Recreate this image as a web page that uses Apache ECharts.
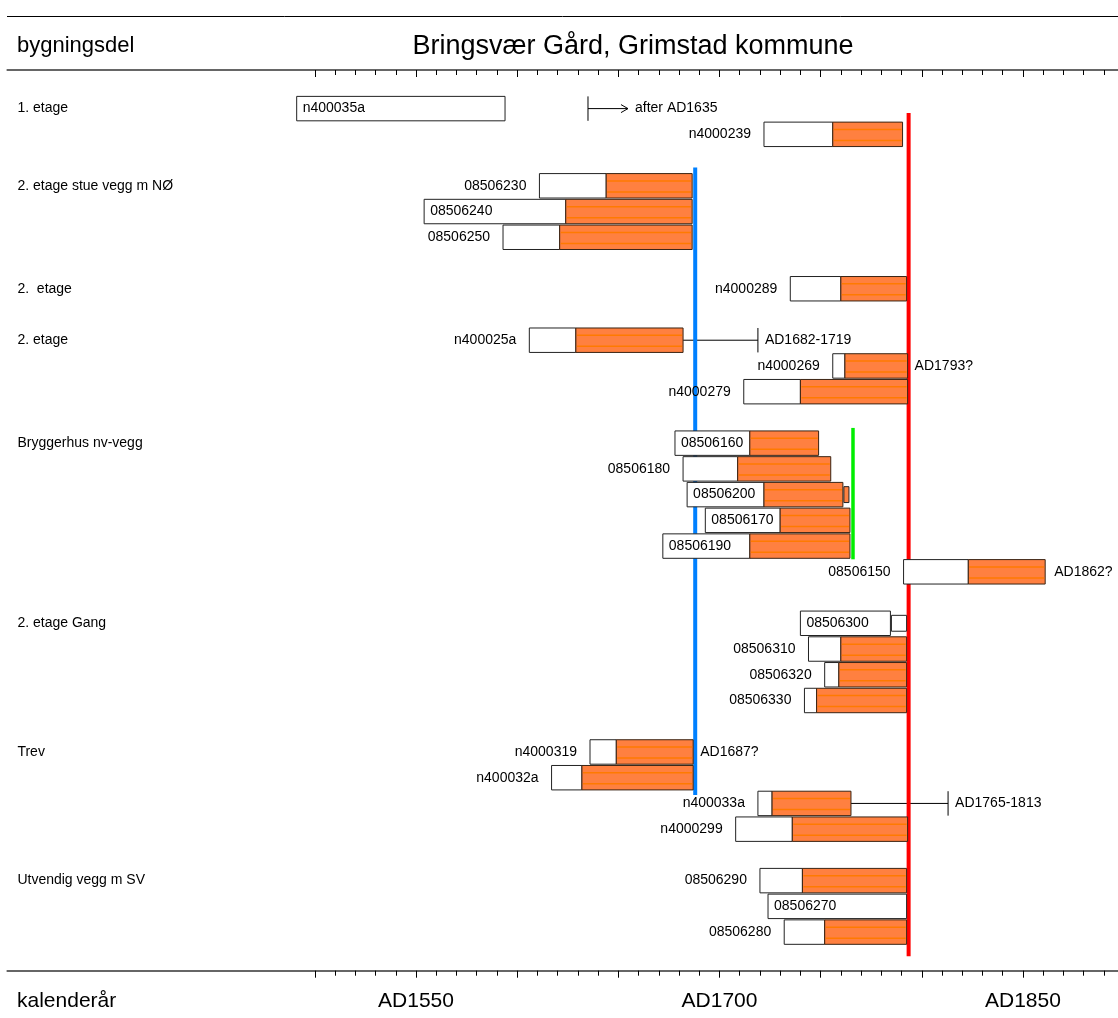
<!DOCTYPE html>
<html>
<head>
<meta charset="utf-8">
<script src="https://cdn.jsdelivr.net/npm/echarts@6/dist/echarts.min.js"></script>
<style>
html, body { margin: 0; padding: 0; background: #fff; }
#chart { width: 1118px; height: 1018px; }
</style>
</head>
<body>
<div id="chart"></div>
<script>
// bygningsdeler (building parts), in drawing order
const groups = [
    '1. etage',
    '2. etage stue vegg m NØ',
    '2.  etage',
    '2. etage',
    'Bryggerhus nv-vegg',
    '2. etage Gang',
    'Trev',
    'Utvendig vegg m SV'
];

// samples, top to bottom
const samples = [
    'n400035a', 'n4000239',
    '08506230', '08506240', '08506250',
    'n4000289',
    'n400025a', 'n4000269', 'n4000279',
    '08506160', '08506180', '08506200', '08506170', '08506190', '08506150',
    '08506300', '08506310', '08506320', '08506330',
    'n4000319', 'n400032a', 'n400033a', 'n4000299',
    '08506290', '08506270', '08506280'
];
const sampleGroup = [0, 0, 1, 1, 1, 2, 3, 3, 3, 4, 4, 4, 4, 4, 4, 5, 5, 5, 5, 6, 6, 6, 6, 7, 7, 7];

// first ring, start of sapwood (null = none), last ring, extra rings
const firstYear = [1491, 1722, 1611, 1554, 1593, 1735, 1606, 1756, 1712, 1678, 1682, 1684, 1693, 1672, 1791, 1740, 1744, 1752, 1742, 1636, 1617, 1719, 1708, 1720, 1724, 1732];
const sapStart = [null, 1756, 1644, 1624, 1621, 1760, 1629, 1762, 1740, 1715, 1709, 1722, 1730, 1715, 1823, null, 1760, 1759, 1748, 1649, 1632, 1726, 1736, 1741, null, 1752];
const lastYear = [1594, 1790.5, 1686.5, 1686.5, 1686.5, 1792.5, 1682, 1793, 1793, 1749, 1755, 1761, 1764.5, 1764.5, 1861, 1784.5, 1792.5, 1792.5, 1792.5, 1687, 1687, 1765, 1793, 1792.5, 1792.5, 1792.5];
const extraEnd = [null, null, null, null, null, null, null, null, null, null, null, 1764, null, null, null, 1792.5, null, null, null, null, null, null, null, null, null, null];

// dating notes
const noteSample = ['n400035a', 'n400025a', 'n4000269', '08506150', 'n4000319', 'n400033a'];
const noteFrom = [1635, 1682, null, null, null, 1765];
const noteTo = [null, 1719, 1793, 1862, 1687, 1813];
const noteText = ['after AD1635', 'AD1682-1719', 'AD1793?', 'AD1862?', 'AD1687?', 'AD1765-1813'];

// felling dates drawn as vertical lines
const refYears = [1688, 1793.5, 1766];
const refFrom = ['08506230', 'n4000239', '08506160'];
const refTo = ['n400032a', '08506280', '08506190'];

// axis ticks
const majorTicks = [1500, 1550, 1600, 1650, 1700, 1750, 1800, 1850];
const minorTicks = [1510, 1520, 1530, 1540, 1560, 1570, 1580, 1590, 1610, 1620, 1630, 1640,
    1660, 1670, 1680, 1690, 1710, 1720, 1730, 1740, 1760, 1770, 1780, 1790,
    1810, 1820, 1830, 1840, 1860, 1870, 1880, 1890];
const labelYears = [1550, 1700, 1850];

// --- styles ---
const FONT = '"Liberation Sans", Arial, sans-serif';
const insideLabel = ['n400035a', '08506240', '08506160', '08506200', '08506170', '08506190', '08506300', '08506270'];
const refColors = ['#0080ff', '#ff0000', '#00ee00'];
const refWidths = [4, 4, 3.5];
const refPad = [[6, 5], [9, 12], [3, 1]];
const ORANGE = '#ff8040';

// one row per sample, one blank row between building parts
const slots = [];
let slot = 0;
sampleGroup.forEach(function (g, i)
{
    if (i > 0 && g !== sampleGroup[i - 1]) slot += 1;
    slots.push(slot);
    slot += 1;
});
const groupSlots = groups.map(function (_, g) { return slots[sampleGroup.indexOf(g)]; });

var chartDom = document.getElementById('chart');
var myChart = echarts.init(chartDom, null, { renderer: 'canvas' });

function renderBar (params, api)
{
    const i = api.value(0);
    const s = slots[i];
    const h = api.size([0, 0.95])[1];
    const p0 = api.coord([firstYear[i], s]);
    const x0 = p0[0], yc = p0[1], y = yc - h / 2;
    const hasSap = sapStart[i] != null;
    const xs = api.coord([hasSap ? sapStart[i] : lastYear[i], s])[0];
    const x1 = api.coord([lastYear[i], s])[0];
    const children = [];

    children.push({
        type: 'rect',
        shape: { x: x0, y: y, width: xs - x0, height: h },
        style: { fill: '#fff', stroke: '#222', lineWidth: 1 }
    });
    if (hasSap)
    {
        children.push({
            type: 'rect',
            shape: { x: xs, y: y, width: x1 - xs, height: h },
            style: { fill: ORANGE, stroke: '#3a2414', lineWidth: 1 }
        });
        [0.3, 0.75].forEach(function (f)
        {
            children.push({
                type: 'line',
                shape: { x1: xs + 1, y1: y + h * f, x2: x1 - 1, y2: y + h * f },
                style: { stroke: '#ff7a00', lineWidth: 1.5 }
            });
        });
    }
    if (extraEnd[i] != null)
    {
        const xe = api.coord([extraEnd[i], s])[0];
        const hh = h * 0.65;
        children.push({
            type: 'rect',
            shape: { x: x1 + 1, y: yc - hh / 2, width: xe - x1 - 1, height: hh },
            style: { fill: hasSap ? ORANGE : '#fff', stroke: '#222', lineWidth: 1 }
        });
    }
    const inside = insideLabel.indexOf(samples[i]) >= 0;
    children.push({
        type: 'text',
        style: {
            text: samples[i],
            x: inside ? x0 + 6 : x0 - 13,
            y: yc,
            align: inside ? 'left' : 'right',
            verticalAlign: 'middle',
            font: '14px ' + FONT,
            fill: '#000'
        }
    });
    return { type: 'group', children: children };
}

function renderNote (params, api)
{
    const k = api.value(0);
    const s = slots[samples.indexOf(noteSample[k])];
    const h = api.size([0, 0.95])[1];
    const yc = api.coord([1500, s])[1];
    const ln = { stroke: '#000', lineWidth: 1 };
    const children = [];
    let tx;
    if (noteFrom[k] != null && noteTo[k] == null)
    {
        const x = api.coord([noteFrom[k], s])[0];
        const tip = x + 40;
        children.push({ type: 'line', shape: { x1: x, y1: yc - h / 2, x2: x, y2: yc + h / 2 }, style: ln });
        children.push({ type: 'line', shape: { x1: x, y1: yc, x2: tip, y2: yc }, style: ln });
        children.push({ type: 'polyline', shape: { points: [[tip - 7, yc - 4], [tip, yc], [tip - 7, yc + 4]] }, style: { stroke: '#000', lineWidth: 1, fill: null } });
        tx = tip + 7;
    }
    else if (noteFrom[k] != null)
    {
        const xa = api.coord([noteFrom[k], s])[0];
        const xb = api.coord([noteTo[k], s])[0];
        children.push({ type: 'line', shape: { x1: xa, y1: yc, x2: xb, y2: yc }, style: ln });
        children.push({ type: 'line', shape: { x1: xb, y1: yc - h / 2, x2: xb, y2: yc + h / 2 }, style: ln });
        tx = xb + 7;
    }
    else
    {
        tx = api.coord([noteTo[k], s])[0] + 7;
    }
    children.push({
        type: 'text',
        style: { text: noteText[k], x: tx, y: yc, align: 'left', verticalAlign: 'middle', font: '14px ' + FONT, fill: '#000' }
    });
    return { type: 'group', children: children };
}

function renderRef (params, api)
{
    const k = api.value(0);
    const h = api.size([0, 0.95])[1];
    const top = api.coord([refYears[k], slots[samples.indexOf(refFrom[k])]]);
    const bot = api.coord([refYears[k], slots[samples.indexOf(refTo[k])]]);
    return {
        type: 'line',
        shape: { x1: top[0], y1: top[1] - h / 2 - refPad[k][0], x2: bot[0], y2: bot[1] + h / 2 + refPad[k][1] },
        style: { stroke: refColors[k], lineWidth: refWidths[k] }
    };
}

function xAxisFor (position, ticks, len, withLine, withLabels)
{
    return {
        type: 'value',
        position: position,
        min: 1348,
        max: 1897,
        axisLine: { show: withLine, onZero: false, lineStyle: { color: '#666', width: 2 } },
        axisTick: {
            show: true,
            inside: position === 'top',
            length: len,
            customValues: ticks,
            lineStyle: { color: '#000', width: 1 }
        },
        axisLabel: {
            show: withLabels,
            customValues: labelYears,
            formatter: function (v) { return 'AD' + v; },
            fontSize: 21,
            fontFamily: FONT,
            color: '#000',
            margin: 20
        },
        splitLine: { show: false }
    };
}

var option = {
    animation: false,
    grid: { left: 7.4, right: 0, top: 70, bottom: 47.3 },
    xAxis: [
        xAxisFor('bottom', minorTicks, 5, true, true),
        xAxisFor('bottom', majorTicks, 7, false, false),
        xAxisFor('top', minorTicks, 5, true, false),
        xAxisFor('top', majorTicks, 7, false, false)
    ],
    yAxis: {
        type: 'value',
        inverse: true,
        min: -1.5,
        max: 33.5,
        axisLine: { show: false },
        axisTick: { show: false },
        splitLine: { show: false },
        axisLabel: {
            show: true,
            inside: true,
            align: 'left',
            margin: 10,
            customValues: groupSlots,
            formatter: function (v) { return groups[groupSlots.indexOf(v)]; },
            fontSize: 14,
            fontFamily: FONT,
            color: '#000'
        }
    },
    graphic: [
        { type: 'line', shape: { x1: 7, y1: 16.5, x2: 1118, y2: 16.5 }, style: { stroke: '#000', lineWidth: 1 } },
        { type: 'text', left: 17, top: 35, style: { text: 'bygningsdel', font: '22px ' + FONT, fill: '#000' } },
        { type: 'text', x: 633, y: 47, style: { text: 'Bringsvær Gård, Grimstad kommune', font: '27px ' + FONT, fill: '#000', align: 'center', verticalAlign: 'middle' } },
        { type: 'text', left: 17, top: 991, style: { text: 'kalenderår', font: '21px ' + FONT, fill: '#000' } }
    ],
    series: [
        {
            type: 'custom',
            z: 1,
            renderItem: renderNote,
            data: noteSample.map(function (_, k) { return [k]; })
        },
        {
            type: 'custom',
            z: 2,
            renderItem: renderRef,
            data: refYears.map(function (_, k) { return [k]; })
        },
        {
            type: 'custom',
            z: 3,
            renderItem: renderBar,
            data: samples.map(function (_, i) { return [i]; })
        }
    ]
};
myChart.setOption(option);
</script>
</body>
</html>
